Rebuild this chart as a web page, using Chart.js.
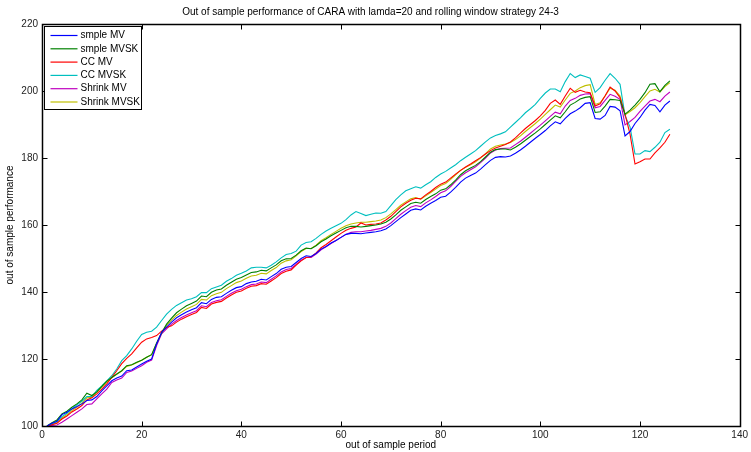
<!DOCTYPE html>
<html lang="en">
<head>
<meta charset="UTF-8">
<title>CARA out of sample</title>
<style>
  html, body { margin: 0; padding: 0; background: #fff; }
  #wrap { width: 751px; height: 452px; }
</style>
</head>
<body>
<div id="wrap"><canvas id="myChart" width="751" height="452"></canvas></div>
<script src="https://cdn.jsdelivr.net/npm/chart.js"></script>
<script>
// out of sample period index 1..126
const periods = Array.from({ length: 126 }, (_, i) => i + 1)
const xTicks = [0, 20, 40, 60, 80, 100, 120, 140]
const yTicks = [100, 120, 140, 160, 180, 200, 220]

const simpleMV = [100,100.8,101.4,103.4,104.1,105.1,105.8,106.6,107.6,107.8,
  108.8,110.5,112,113.5,114.3,114.9,116.5,116.7,117.6,118.5,
  119.3,120,124.5,128,129.5,131,132.3,133.2,134,134.7,
  135.3,136.8,136.5,137.8,138.4,138.6,139.6,140.5,141.3,141.6,
  142.5,143,143.2,143.8,143.6,144.6,145.5,146.8,147.4,147.6,
  148.8,150,150.8,150.6,151.5,152.8,153.6,154.6,155.4,156.3,
  157.2,157.5,157.5,157.4,157.6,157.8,158,158.3,158.8,159.8,
  161,162.2,163.3,164.4,164.8,164.5,165.6,166.5,167.3,168.3,
  168.6,169.8,171.2,172.8,174,174.8,175.5,176.7,178,179.3,
  180.2,180.4,180.3,180.6,181.4,182.4,183.5,184.7,185.9,187,
  188.2,189.6,190.8,190.2,191.8,193.2,194,195,196.3,196.5,
  191.8,191.6,192.7,195.4,195.2,194.1,186.6,187.9,190.3,192.1,
  194.3,196,195.7,193.8,195.8,197]

const simpleMVSK = [100,101,101.8,103.6,104.4,105.6,106.6,107.8,109.8,109.1,
  110.2,111.8,113.4,114.5,115.5,116.5,118,118.3,119,119.6,
  120.5,121.3,124.8,127.8,130.4,132.2,133.8,134.9,135.9,136.6,
  137.3,138.8,138.6,139.9,140.6,140.9,142,142.9,143.8,144.3,
  145.1,145.8,146,146.5,146.3,147.2,148.1,149.3,149.9,150,
  151,152.3,153.1,152.9,153.8,155,155.8,156.8,157.6,158.4,
  159.2,159.6,159.6,159.4,159.6,159.8,160,160.3,160.8,161.8,
  163,164.4,165.4,166.4,166.8,166.5,167.6,168.5,169.3,170.4,
  170.8,172,173.4,175,176.2,177,177.8,178.9,180.3,181.7,
  182.5,182.7,182.7,182.4,183.2,184.2,185.3,186.4,187.5,188.7,
  190,191.3,192.6,192,193.8,195.8,196.6,197.6,198.1,198.3,
  193.6,193.8,195.5,197.5,197.4,197.2,193.1,194.3,195.8,197.5,
  199.5,202,202.2,199.8,201.7,203]

const ccMV = [100,100.4,100.8,102.1,103,104.2,105.1,106.1,107.8,108.4,
  109.6,111,112.6,114.5,116.5,118.6,120.2,121.5,123.3,125,
  126,126.4,127,128.3,129.4,129.9,131,131.9,132.6,133.3,
  133.9,135.4,135.1,136.4,136.9,137.2,138.2,139.1,139.9,140.3,
  141.1,141.7,141.9,142.5,142.3,143.3,144.3,145.5,146.2,146.6,
  148,149.3,150.3,150.5,151.7,153.2,154.2,155.3,156.4,157.5,
  158.4,159,159.4,160.6,160,160.2,160.3,160.6,161.5,162.6,
  164,165.4,166.5,167.4,168,167.8,169,170,171.2,172.2,
  172.8,174,175.2,176.3,177.3,178.2,179.2,180.1,181.2,182.2,
  183,183.5,184,184.8,186,187.4,188.8,190,191.2,192.6,
  194.2,196.3,197.3,196,198.5,200.8,199.6,200.2,199.7,199.5,
  195.5,196.2,198.6,201.2,200,198,193.1,187.1,178.2,178.9,
  179.7,179.7,181.5,183,184.7,187.1]

const ccMVSK = [100,100.6,101.3,102.8,103.8,105.1,106.3,107.4,108.8,108.8,
  110.6,112,113.5,115,117,119.5,121,123,125.3,127.3,
  128,128.3,129.5,131.5,133.4,134.8,136,136.8,137.6,138,
  138.6,139.8,139.8,141,141.5,142,143.2,144,145,145.6,
  146.3,147.2,147.4,147.4,147.2,148,149,150.2,151.2,151.5,
  152.2,154,154.8,155,156,157.2,158.2,159,159.8,160.5,
  161.6,163,164,163.4,162.8,163.2,163.6,163.5,164,165.8,
  167.6,169,170.2,170.8,171.4,171,172,172.9,174.2,175.2,
  176,177,178,179.2,180.2,181.2,182.2,183.5,184.8,186,
  186.7,187.2,187.8,189.2,190.6,192,193.5,194.7,196,197.8,
  199.4,200.6,200.6,199.8,202.8,205.2,204,204.8,204.3,203.8,
  199.6,201,203.2,205.2,203.8,202,192.6,189.3,181.2,181.2,
  182.2,181.9,183.2,184.7,187.6,188.6]

const shrinkMV = [100,100.2,100.3,101.1,102.1,103.1,104.1,105.1,106.4,106.6,
  108.1,109.6,111,113,113.7,114.3,116,116.4,117.2,118,
  119,119.7,124,127.5,129,130.4,131.5,132.4,133.1,133.8,
  134.4,135.9,135.6,136.9,137.4,137.7,138.7,139.6,140.4,140.8,
  141.6,142.2,142.4,143,142.8,143.8,144.8,146,146.7,147,
  148.2,149.5,150.3,150.3,151.3,152.6,153.5,154.5,155.4,156.3,
  157.2,157.8,158,158,158.2,158.4,158.7,159,159.6,160.6,
  161.9,163.2,164.3,165.3,165.8,165.5,166.6,167.5,168.5,169.6,
  170.2,171.5,173,174.5,175.6,176.5,177.4,178.6,180,181.5,
  182.4,182.8,182.9,183,184,185,186.2,187.4,188.6,189.8,
  191.1,192.4,193.7,193.2,195.5,197.2,197.8,198.7,199.1,199.2,
  195,195.4,197.2,199,198.4,197.5,189.9,190.9,192.1,193.9,
  195.5,197,197.5,196.8,198.5,199.7]

const shrinkMVSK = [100,100.5,101,102.4,103.4,104.6,105.6,106.8,108.4,108.6,
  110.1,111.6,113.1,114.4,115.4,116.4,117.8,118.2,118.9,119.6,
  120.5,121.3,124.6,127.6,130,131.6,133,134,134.9,135.6,
  136.3,137.8,137.6,138.9,139.5,139.9,141,141.9,142.8,143.3,
  144.1,144.8,145,145.6,145.4,146.4,147.3,148.6,149.3,149.6,
  150.8,152.1,153,153,154,155.3,156.2,157.2,158.1,159,
  159.8,160.3,160.6,160.8,160.8,161,161.2,161.5,162.2,163.3,
  164.6,165.9,166.9,167.8,168.2,167.7,168.7,169.7,170.7,171.8,
  172.4,173.6,175,176.3,177.2,178,178.9,180,181.3,182.7,
  183.5,183.9,184.2,184.6,185.5,186.6,187.9,189.1,190.3,191.6,
  193,194.4,195.8,195.2,197.3,199.3,200,201,201.6,201.9,
  196,196.5,198.5,200.8,200.2,198.5,192.9,193.9,195,196.5,
  198.3,200,200.5,199.7,201.3,202.5]

const seriesNames = ['smple MV', 'smple MVSK', 'CC MV', 'CC MVSK', 'Shrink MV', 'Shrink MVSK']
const seriesValues = [simpleMV, simpleMVSK, ccMV, ccMVSK, shrinkMV, shrinkMVSK]
const seriesColors = ['#0000ff', '#008000', '#ff0000', '#00bfbf', '#bf00bf', '#bfbf00']

const FONT = '"Liberation Sans", Arial, sans-serif'

const datasets = seriesNames.map((name, i) => ({
  label: name,
  data: periods.map((p, j) => ({ x: p, y: seriesValues[i][j] })),
  borderColor: seriesColors[i],
  backgroundColor: seriesColors[i],
  borderWidth: 1.1,
  pointRadius: 0,
  tension: 0,
  fill: false
}))

// matlab style box, inward ticks, and legend inside the axes
const matlabAxes = {
  id: 'matlabAxes',
  afterDatasetsDraw(chart) {
    const ctx = chart.ctx
    const a = chart.chartArea
    const xs = chart.scales.x, ys = chart.scales.y
    const L = Math.round(a.left) + 0.5, R = Math.round(a.right) + 0.5
    const T = Math.round(a.top) + 0.5, B = Math.round(a.bottom) + 0.5
    ctx.save()
    ctx.strokeStyle = '#000'
    ctx.lineWidth = 1
    ctx.beginPath()
    xTicks.forEach(v => {
      const px = Math.round(xs.getPixelForValue(v)) + 0.5
      ctx.moveTo(px, B); ctx.lineTo(px, B - 5)
      ctx.moveTo(px, T); ctx.lineTo(px, T + 5)
    })
    yTicks.forEach(v => {
      const py = Math.round(ys.getPixelForValue(v)) + 0.5
      ctx.moveTo(L, py); ctx.lineTo(L + 5, py)
      ctx.moveTo(R, py); ctx.lineTo(R - 5, py)
    })
    ctx.stroke()
    ctx.lineWidth = 1.5
    ctx.strokeRect(L, T, R - L, B - T)

    // legend
    const lx = L + 2, ly = T + 2, lw = 97, lh = 83
    ctx.fillStyle = '#fff'
    ctx.fillRect(lx, ly, lw, lh)
    ctx.lineWidth = 1
    ctx.strokeRect(lx, ly, lw, lh)
    ctx.font = '10px ' + FONT
    ctx.textBaseline = 'middle'
    seriesNames.forEach((name, i) => {
      const yy = ly + 9 + i * 13.3
      ctx.strokeStyle = seriesColors[i]
      ctx.lineWidth = 1.2
      ctx.beginPath()
      ctx.moveTo(lx + 6, yy); ctx.lineTo(lx + 33, yy)
      ctx.stroke()
      ctx.fillStyle = '#000'
      ctx.fillText(name, lx + 36, yy)
    })
    ctx.restore()
  }
}

const config = {
  type: 'line',
  data: { datasets: datasets },
  options: {
    responsive: false,
    animation: false,
    layout: { padding: { left: 0, right: 10, top: 0, bottom: 0 } },
    plugins: {
      legend: { display: false },
      tooltip: { enabled: false },
      title: {
        display: true,
        text: 'Out of sample performance of CARA with lamda=20 and rolling window strategy 24-3',
        color: '#000',
        font: { family: FONT, size: 10, weight: 'normal' },
        padding: { top: 6, bottom: 6 }
      }
    },
    scales: {
      x: {
        type: 'linear',
        min: 0, max: 140,
        afterBuildTicks: s => { s.ticks = xTicks.map(v => ({ value: v })) },
        afterFit: s => { s.height = 26 },
        grid: { display: false, drawTicks: false },
        border: { display: false },
        ticks: { color: '#222', font: { family: FONT, size: 10 }, padding: 3, maxRotation: 0 },
        title: { display: true, text: 'out of sample period', color: '#000', font: { family: FONT, size: 10 }, padding: { top: 0, bottom: 1 } }
      },
      y: {
        min: 100, max: 220,
        afterBuildTicks: s => { s.ticks = yTicks.map(v => ({ value: v })) },
        afterFit: s => { s.width = 42 },
        grid: { display: false, drawTicks: false },
        border: { display: false },
        ticks: { color: '#222', font: { family: FONT, size: 10 }, padding: 4 },
        title: { display: true, text: 'out of sample performance', color: '#000', font: { family: FONT, size: 10 }, padding: { top: 4, bottom: 0 } }
      }
    }
  },
  plugins: [matlabAxes]
}

const chart = new Chart(document.getElementById('myChart'), config)
</script>
</body>
</html>
